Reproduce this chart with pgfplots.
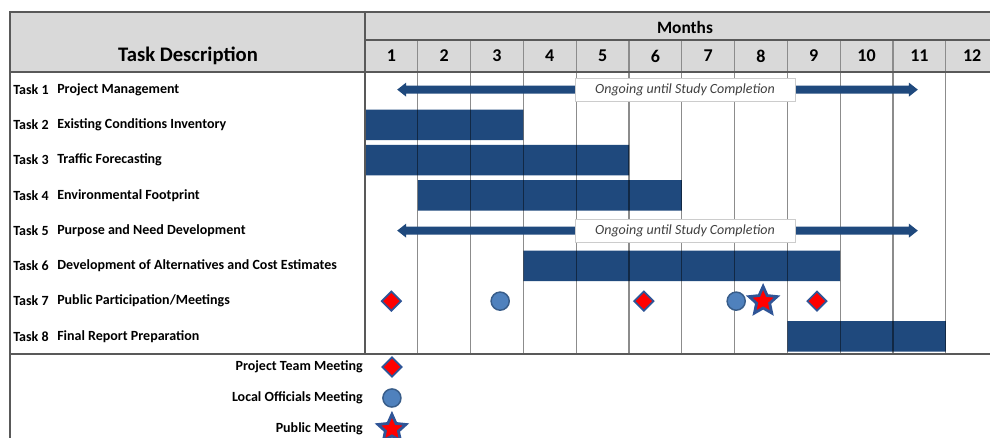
\documentclass[border=0pt]{standalone}
\usepackage{pgfplots}
\pgfplotsset{compat=1.18}
\usepackage{pgfplotstable}
\usepackage{fontspec}
\setmainfont{Carlito}

\definecolor{barblue}{RGB}{31,73,125}
\definecolor{gridgray}{RGB}{140,140,140}
\definecolor{rulegray}{RGB}{89,89,89}
\definecolor{headgray}{RGB}{217,217,217}
\definecolor{edgeblue}{RGB}{47,85,151}
\definecolor{dotblue}{RGB}{79,129,189}
\definecolor{dotedge}{RGB}{56,93,138}
\definecolor{notegray}{RGB}{64,64,64}

% task bars: row centre (row i sits at i-0.5), months elapsed before start, duration in months
\pgfplotstableread{
row start len
1.5 0 3
2.5 0 5
3.5 1 5
5.5 3 6
7.5 8 3
}\bars

% double-headed "ongoing" arrow outlines (Task 1 and Task 5 rows)
\pgfplotstableread{
x y
0.61 0.500
0.78 0.300
0.78 0.385
10.30 0.385
10.30 0.300
10.47 0.500
10.30 0.700
10.30 0.615
0.78 0.615
0.78 0.700
}\ongoingA
\pgfplotstableread{
x y
0.61 4.500
0.78 4.300
0.78 4.385
10.30 4.385
10.30 4.300
10.47 4.500
10.30 4.700
10.30 4.615
0.78 4.615
0.78 4.700
}\ongoingB

% meetings on the Task 7 row (x = months from project start)
\pgfplotstableread{
x y
0.50 6.5
5.28 6.5
8.56 6.5
}\teammeet
\pgfplotstableread{
x y
2.56 6.5
7.03 6.5
}\officialmeet
\pgfplotstableread{
x y
7.54 6.5
}\publicmeet

% key symbols below the chart
\pgfplotstableread{
x y
0.51 8.369
}\keyteam
\pgfplotstableread{
x y
0.51 9.248
}\keyofficial
\pgfplotstableread{
x y
0.51 10.128
}\keypublic

% filled five-pointed star
\pgfdeclareplotmark{fivestar}{%
  \pgfpathmoveto{\pgfpointpolar{90}{\pgfplotmarksize}}%
  \pgfpathlineto{\pgfpointpolar{126}{0.47\pgfplotmarksize}}%
  \pgfpathlineto{\pgfpointpolar{162}{\pgfplotmarksize}}%
  \pgfpathlineto{\pgfpointpolar{198}{0.47\pgfplotmarksize}}%
  \pgfpathlineto{\pgfpointpolar{234}{\pgfplotmarksize}}%
  \pgfpathlineto{\pgfpointpolar{270}{0.47\pgfplotmarksize}}%
  \pgfpathlineto{\pgfpointpolar{306}{\pgfplotmarksize}}%
  \pgfpathlineto{\pgfpointpolar{342}{0.47\pgfplotmarksize}}%
  \pgfpathlineto{\pgfpointpolar{18}{\pgfplotmarksize}}%
  \pgfpathlineto{\pgfpointpolar{54}{0.47\pgfplotmarksize}}%
  \pgfpathclose
  \pgfusepathqfillstroke}

\pgfplotsset{
  chartbody/.style={
    scale only axis, width=475.2pt, height=211.5pt,
    xmin=0, xmax=12, ymin=0, ymax=8, y dir=reverse,
    hide axis, clip=false,
    at={(511.35pt,-159.75pt)}, anchor=center},
  teamstyle/.style={only marks, mark=square*, mark size=5.1pt,
    mark options={rotate=45, fill=red, draw=edgeblue, line width=1.3pt}},
  officialstyle/.style={only marks, mark=*, mark size=6.8pt,
    mark options={fill=dotblue, draw=dotedge, line width=1.1pt}},
  publicstyle/.style={only marks, mark=fivestar, mark size=11pt,
    mark options={fill=red, draw=edgeblue, line width=2.1pt, line join=miter}},
}
\tikzset{
  note/.style={fill=white, draw=black!20, line width=0.6pt,
    minimum width=165pt, minimum height=17pt, inner sep=0pt,
    text=notegray, font=\itshape\fontsize{10.5}{12}\selectfont},
  lab/.style={font=\bfseries\fontsize{10.5}{12}\selectfont, inner sep=0pt},
}

\begin{document}
\begin{tikzpicture}
% header band and white body
\begin{scope}[x=0.75pt, y=-0.75pt]
  \fill[headgray] (10,12) rectangle (1001,72);
  \fill[white] (10,72) rectangle (1001,438);
\end{scope}

% task bars
\begin{axis}[chartbody, xbar stacked, bar width=0.86]
  \addplot[draw=none, fill=none] table[x=start, y=row] {\bars};
  \addplot[draw=none, fill=barblue] table[x=len, y=row] {\bars};
\end{axis}

% month grid: translucent black, so it reads gray on white and darker on the bars
\begin{scope}[x=0.75pt, y=-0.75pt]
  \foreach \k in {1,...,11}
    \draw[black, draw opacity=0.45, line width=0.85pt]
      ({365+52.8*\k},72) -- ({365+52.8*\k},354);
\end{scope}

% ongoing tasks and meetings
\begin{axis}[chartbody]
  \addplot[fill=barblue, draw=none] table {\ongoingA};
  \addplot[fill=barblue, draw=none] table {\ongoingB};
  \node[fill=black!12, minimum width=165pt, minimum height=17pt, inner sep=0pt,
        xshift=0.9pt, yshift=-0.9pt] at (axis cs:6.06,0.5) {};
  \node[fill=black!12, minimum width=165pt, minimum height=17pt, inner sep=0pt,
        xshift=0.9pt, yshift=-0.9pt] at (axis cs:6.06,4.5) {};
  \node[note] at (axis cs:6.06,0.5) {Ongoing until Study Completion};
  \node[note] at (axis cs:6.06,4.5) {Ongoing until Study Completion};
  \addplot[teamstyle] table {\teammeet};
  \addplot[officialstyle] table {\officialmeet};
  \addplot[publicstyle] table {\publicmeet};
  \addplot[teamstyle] table {\keyteam};
  \addplot[officialstyle] table {\keyofficial};
  \addplot[publicstyle] table {\keypublic};
\end{axis}

\begin{scope}[x=0.75pt, y=-0.75pt]
  % rules
  \foreach \k in {1,...,11}
    \draw[gridgray, line width=0.85pt] ({365+52.8*\k},40) -- ({365+52.8*\k},72);
  \draw[rulegray, line width=0.9pt] (365,40) -- (1001,40);
  \draw[rulegray, line width=1.1pt] (365,12) -- (365,354);
  \draw[rulegray, line width=1.2pt] (10,72) -- (1001,72);
  \draw[rulegray, line width=1.2pt] (10,354) -- (1001,354);
  \draw[rulegray, line width=1.3pt] (1001,12) -- (10,12) -- (10,440);

  % headings
  \node[font=\bfseries\fontsize{15.5}{18}\selectfont] at (188,56) {Task Description};
  \node[font=\bfseries\fontsize{13}{15}\selectfont] at (685,27) {Months};
  \foreach \k in {1,...,12}
    \node[font=\bfseries\fontsize{13.5}{16}\selectfont] at ({365+52.8*(\k-0.5)},56) {\k};

  % task names
  \foreach \i/\name in {1/{Project Management}, 2/{Existing Conditions Inventory},
      3/{Traffic Forecasting}, 4/{Environmental Footprint},
      5/{Purpose and Need Development},
      6/{Development of Alternatives and Cost Estimates},
      7/{Public Participation/Meetings}, 8/{Final Report Preparation}} {
    \node[lab, anchor=west] at (13,{72+35.25*(\i-0.5)}) {Task \i};
    \node[lab, anchor=west] at (57,{72+35.25*(\i-0.5)}) {\name};
  }

  % key
  \node[lab, anchor=east] at (363,367) {Project Team Meeting};
  \node[lab, anchor=east] at (363,398) {Local Officials Meeting};
  \node[lab, anchor=east] at (363,429) {Public Meeting};

  \pgfresetboundingbox
  \path[use as bounding box] (0,0) rectangle (990,438);
\end{scope}
\end{tikzpicture}
\end{document}
